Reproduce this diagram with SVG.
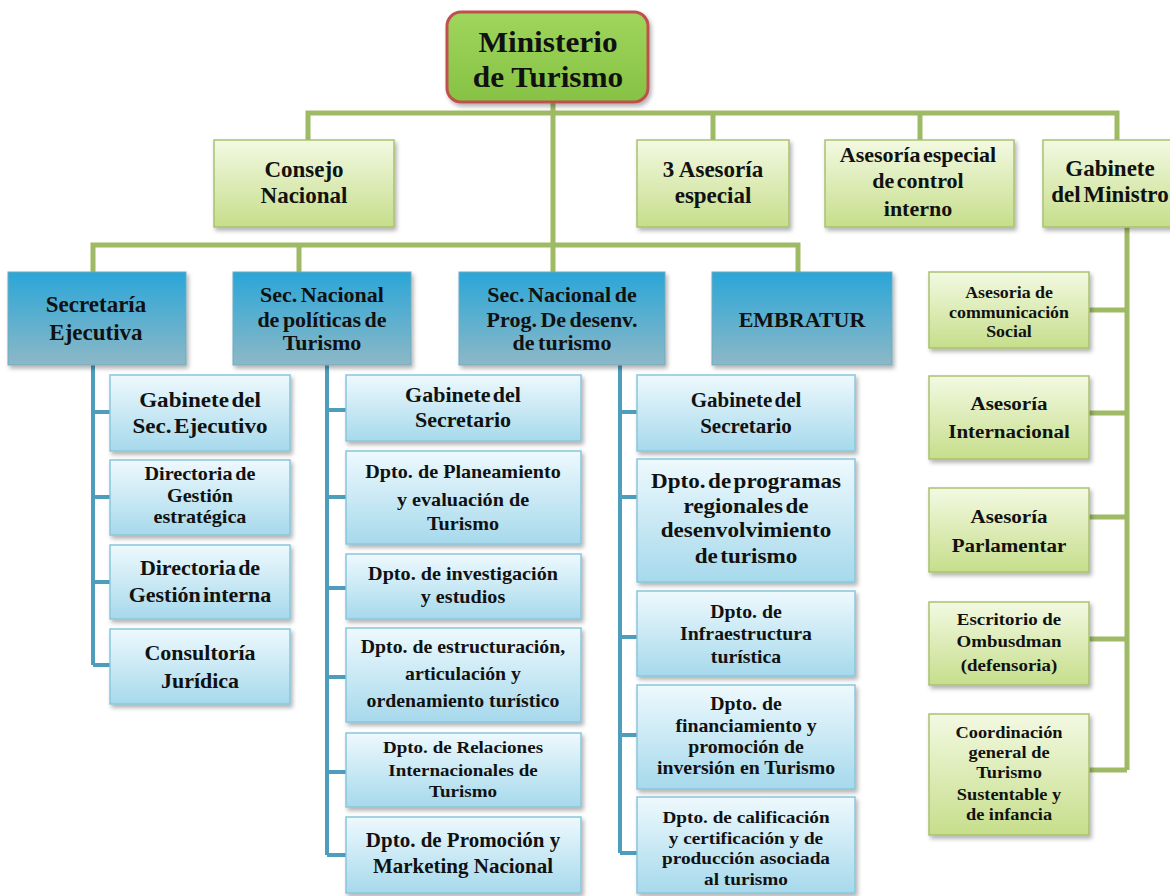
<svg xmlns="http://www.w3.org/2000/svg" width="1170" height="896" viewBox="0 0 1170 896" font-family="'Liberation Serif', 'Times New Roman', serif">
<defs>
<linearGradient id="gMin" x1="0" y1="0" x2="0" y2="1"><stop offset="0" stop-color="#9fd65c"/><stop offset="1" stop-color="#86c244"/></linearGradient>
<linearGradient id="gGreen" x1="0" y1="0" x2="0" y2="1"><stop offset="0" stop-color="#f3f9e2"/><stop offset="1" stop-color="#c6de8b"/></linearGradient>
<linearGradient id="gBlue" x1="0" y1="0" x2="0" y2="1"><stop offset="0" stop-color="#2aa6d8"/><stop offset="1" stop-color="#8db8c6"/></linearGradient>
<linearGradient id="gLight" x1="0" y1="0" x2="0" y2="1"><stop offset="0" stop-color="#eef9fd"/><stop offset="1" stop-color="#a6d9ec"/></linearGradient>
<filter id="sh" x="-10%" y="-10%" width="125%" height="130%"><feDropShadow dx="2" dy="3" stdDeviation="2" flood-color="#000" flood-opacity="0.3"/></filter>
<style>
.t{font-family:'Liberation Serif','Times New Roman',serif;font-weight:700;fill:#111;text-anchor:middle}
.gbox{fill:url(#gGreen);stroke:#a9c26f;stroke-width:1.5;filter:url(#sh)}
.bbox{fill:url(#gBlue);stroke:#6fa9bf;stroke-width:1;filter:url(#sh)}
.lbox{fill:url(#gLight);stroke:#88c6dd;stroke-width:1.5;filter:url(#sh)}
.gl{fill:none;stroke:#9fba64;stroke-width:5}
.bl{fill:none;stroke:#4f9dbd;stroke-width:4}
</style>
</defs>
<rect width="1170" height="896" fill="#fff"/>

<g id="connectors">
<path class="gl" d="M308 140 V113 H1117 V140"/>
<path class="gl" d="M713 113 V140 M920 113 V140"/>
<path class="gl" d="M553 102 V272"/>
<path class="gl" d="M93 272 V245 H798 V272 M299 245 V272"/>
<path class="gl" d="M1127 227 V770 M1089 310 H1127 M1089 413 H1127 M1089 517 H1127 M1089 639 H1127 M1089 770 H1127"/>
<path class="bl" d="M93 365 V665 M93 412 H110 M93 497 H110 M93 582 H110 M93 665 H110"/>
<path class="bl" d="M327 365 V855 M327 410 H346 M327 497 H346 M327 588 H346 M327 677 H346 M327 772 H346 M327 855 H346"/>
<path class="bl" d="M620 365 V853 M620 412 H637 M620 497 H637 M620 637 H637 M620 735 H637 M620 853 H637"/>
</g>

<g id="ministerio">
<rect x="447" y="12" width="201" height="90" rx="14" fill="url(#gMin)" stroke="#c0504d" stroke-width="3" filter="url(#sh)"/>
<g transform="translate(548 0) scale(1.08 1)"><text class="t" font-size="29"><tspan x="0" y="52">Ministerio</tspan><tspan x="0" y="87">de Turismo</tspan></text></g>
</g>

<g id="consejo">
<rect class="gbox" x="214" y="140" width="180" height="87"/>
<text class="t" font-size="23"><tspan x="304" y="177">Consejo</tspan><tspan x="304" y="203">Nacional</tspan></text>
</g>
<g id="asesoria3">
<rect class="gbox" x="637" y="140" width="152" height="87"/>
<text class="t" font-size="23"><tspan x="713" y="177">3 Asesoría</tspan><tspan x="713" y="203">especial</tspan></text>
</g>
<g id="asesoria-control">
<rect class="gbox" x="825" y="140" width="189" height="87"/>
<text class="t" font-size="22" word-spacing="-3"><tspan x="918" y="162">Asesoría especial</tspan><tspan x="918" y="188">de control</tspan><tspan x="918" y="216">interno</tspan></text>
</g>
<g id="gabinete-ministro">
<rect class="gbox" x="1043" y="140" width="150" height="87"/>
<text class="t" font-size="23" word-spacing="-3"><tspan x="1110" y="176">Gabinete</tspan><tspan x="1110" y="202">del Ministro</tspan></text>
</g>

<g id="sec-ejecutiva">
<rect class="bbox" x="8" y="272" width="178" height="93"/>
<text class="t" font-size="23"><tspan x="96" y="312">Secretaría</tspan><tspan x="96" y="340">Ejecutiva</tspan></text>
</g>
<g id="sec-politicas">
<rect class="bbox" x="233" y="272" width="178" height="93"/>
<text class="t" font-size="22" word-spacing="-2"><tspan x="322" y="302">Sec. Nacional</tspan><tspan x="322" y="327">de políticas  de</tspan><tspan x="322" y="350">Turismo</tspan></text>
</g>
<g id="sec-prog">
<rect class="bbox" x="459" y="272" width="206" height="93"/>
<text class="t" font-size="22" word-spacing="-2"><tspan x="562" y="302">Sec. Nacional de</tspan><tspan x="562" y="327">Prog. De desenv.</tspan><tspan x="562" y="350">de turismo</tspan></text>
</g>
<g id="embratur">
<rect class="bbox" x="712" y="272" width="180" height="93"/>
<text class="t" font-size="22"><tspan x="802" y="327">EMBRATUR</tspan></text>
</g>

<g id="a1"><rect class="lbox" x="110" y="375" width="180" height="76"/>
<g transform="translate(200 0) scale(1.1 1)"><text class="t" font-size="21" word-spacing="-3"><tspan x="0" y="407">Gabinete del</tspan><tspan x="0" y="433">Sec. Ejecutivo</tspan></text></g></g>
<g id="a2"><rect class="lbox" x="110" y="460" width="180" height="75"/>
<g transform="translate(200 0) scale(1.12 1)"><text class="t" font-size="18" word-spacing="-2"><tspan x="0" y="480">Directoria de</tspan><tspan x="0" y="502">Gestión</tspan><tspan x="0" y="523">estratégica</tspan></text></g></g>
<g id="a3"><rect class="lbox" x="110" y="545" width="180" height="74"/>
<g transform="translate(200 0) scale(1.1 1)"><text class="t" font-size="20" word-spacing="-3"><tspan x="0" y="575">Directoria de</tspan><tspan x="0" y="602">Gestión interna</tspan></text></g></g>
<g id="a4"><rect class="lbox" x="110" y="629" width="180" height="75"/>
<g transform="translate(200 0) scale(1.1 1)"><text class="t" font-size="20"><tspan x="0" y="660">Consultoría</tspan><tspan x="0" y="688">Jurídica</tspan></text></g></g>

<g id="b1"><rect class="lbox" x="346" y="375" width="235" height="66"/>
<g transform="translate(463 0) scale(1.1 1)"><text class="t" font-size="20" word-spacing="-3"><tspan x="0" y="402">Gabinete del</tspan><tspan x="0" y="427">Secretario</tspan></text></g></g>
<g id="b2"><rect class="lbox" x="346" y="451" width="235" height="93"/>
<g transform="translate(463 0) scale(1.12 1)"><text class="t" font-size="18"><tspan x="0" y="478">Dpto. de Planeamiento</tspan><tspan x="0" y="506">y evaluación de</tspan><tspan x="0" y="530">Turismo</tspan></text></g></g>
<g id="b3"><rect class="lbox" x="346" y="554" width="235" height="65"/>
<g transform="translate(463 0) scale(1.12 1)"><text class="t" font-size="18"><tspan x="0" y="580">Dpto. de investigación</tspan><tspan x="0" y="603">y estudios</tspan></text></g></g>
<g id="b4"><rect class="lbox" x="346" y="628" width="235" height="94"/>
<g transform="translate(463 0) scale(1.1 1)"><text class="t" font-size="18"><tspan x="0" y="653">Dpto. de estructuración,</tspan><tspan x="0" y="680">articulación y</tspan><tspan x="0" y="707">ordenamiento turístico</tspan></text></g></g>
<g id="b5"><rect class="lbox" x="346" y="733" width="235" height="74"/>
<g transform="translate(463 0) scale(1.12 1)"><text class="t" font-size="17"><tspan x="0" y="753">Dpto. de Relaciones</tspan><tspan x="0" y="776">Internacionales de</tspan><tspan x="0" y="797">Turismo</tspan></text></g></g>
<g id="b6"><rect class="lbox" x="346" y="817" width="235" height="76"/>
<g transform="translate(463 0) scale(1.05 1)"><text class="t" font-size="20"><tspan x="0" y="847">Dpto. de Promoción y</tspan><tspan x="0" y="873">Marketing  Nacional</tspan></text></g></g>

<g id="c1"><rect class="lbox" x="637" y="375" width="218" height="76"/>
<g transform="translate(746 0) scale(1.05 1)"><text class="t" font-size="20" word-spacing="-3"><tspan x="0" y="407">Gabinete del</tspan><tspan x="0" y="433">Secretario</tspan></text></g></g>
<g id="c2"><rect class="lbox" x="637" y="459" width="218" height="123"/>
<g transform="translate(746 0) scale(1.1 1)"><text class="t" font-size="21" word-spacing="-3"><tspan x="0" y="488">Dpto. de programas</tspan><tspan x="0" y="513">regionales  de</tspan><tspan x="0" y="537">desenvolvimiento</tspan><tspan x="0" y="563">de turismo</tspan></text></g></g>
<g id="c3"><rect class="lbox" x="637" y="591" width="218" height="85"/>
<g transform="translate(746 0) scale(1.1 1)"><text class="t" font-size="18"><tspan x="0" y="618">Dpto. de</tspan><tspan x="0" y="640">Infraestructura</tspan><tspan x="0" y="663">turística</tspan></text></g></g>
<g id="c4"><rect class="lbox" x="637" y="685" width="218" height="104"/>
<g transform="translate(746 0) scale(1.1 1)"><text class="t" font-size="18"><tspan x="0" y="710">Dpto. de</tspan><tspan x="0" y="732">financiamiento y</tspan><tspan x="0" y="753">promoción de</tspan><tspan x="0" y="774">inversión en Turismo</tspan></text></g></g>
<g id="c5"><rect class="lbox" x="637" y="797" width="218" height="96"/>
<g transform="translate(746 0) scale(1.1 1)"><text class="t" font-size="17.5"><tspan x="0" y="823">Dpto. de calificación</tspan><tspan x="0" y="844">y certificación y de</tspan><tspan x="0" y="864">producción asociada</tspan><tspan x="0" y="885">al turismo</tspan></text></g></g>

<g id="d1"><rect class="gbox" x="929" y="272" width="160" height="76"/>
<g transform="translate(1009 0) scale(1.05 1)"><text class="t" font-size="17"><tspan x="0" y="298">Asesoria de</tspan><tspan x="0" y="318">communicación</tspan><tspan x="0" y="337">Social</tspan></text></g></g>
<g id="d2"><rect class="gbox" x="929" y="376" width="160" height="83"/>
<g transform="translate(1009 0) scale(1.08 1)"><text class="t" font-size="19.5"><tspan x="0" y="410">Asesoría</tspan><tspan x="0" y="438">Internacional</tspan></text></g></g>
<g id="d3"><rect class="gbox" x="929" y="488" width="160" height="84"/>
<g transform="translate(1009 0) scale(1.08 1)"><text class="t" font-size="19.5"><tspan x="0" y="523">Asesoría</tspan><tspan x="0" y="552">Parlamentar</tspan></text></g></g>
<g id="d4"><rect class="gbox" x="929" y="602" width="160" height="83"/>
<g transform="translate(1009 0) scale(1.08 1)"><text class="t" font-size="17.5"><tspan x="0" y="625">Escritorio de</tspan><tspan x="0" y="647">Ombusdman</tspan><tspan x="0" y="671">(defensoria)</tspan></text></g></g>
<g id="d5"><rect class="gbox" x="929" y="714" width="160" height="121"/>
<g transform="translate(1009 0) scale(1.08 1)"><text class="t" font-size="17"><tspan x="0" y="738">Coordinación</tspan><tspan x="0" y="758">general de</tspan><tspan x="0" y="778">Turismo</tspan><tspan x="0" y="800">Sustentable y</tspan><tspan x="0" y="820">de infancia</tspan></text></g></g>
</svg>
